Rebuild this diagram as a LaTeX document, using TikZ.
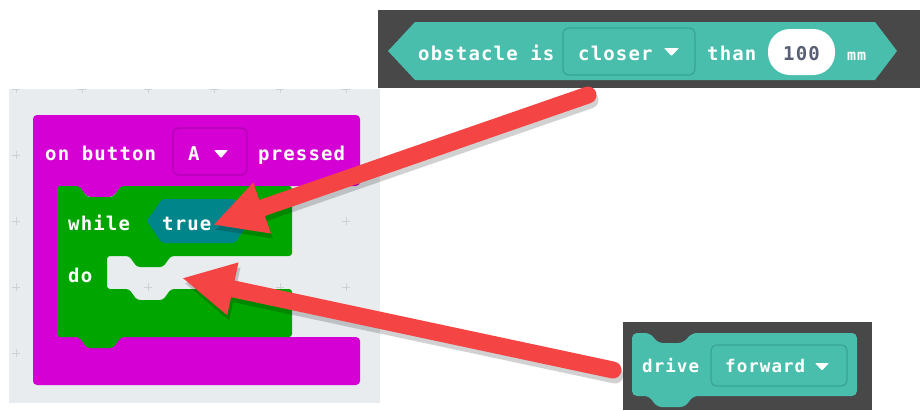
\documentclass[tikz,border=0pt]{standalone}
\usepackage{fontspec}
\newfontfamily\blk[LetterSpace=6]{DejaVu Sans Mono}
\usetikzlibrary{arrows.meta}

\definecolor{canvas}{RGB}{233,236,239}
\definecolor{gridmark}{RGB}{204,209,214}
\definecolor{evmag}{RGB}{212,0,212}
\definecolor{evmagdark}{RGB}{176,0,176}
\definecolor{loopgreen}{RGB}{0,165,0}
\definecolor{logicteal}{RGB}{0,133,138}
\definecolor{robteal}{RGB}{73,190,172}
\definecolor{robtealdark}{RGB}{56,164,148}
\definecolor{panel}{RGB}{72,72,72}
\definecolor{numgray}{RGB}{87,94,117}
\definecolor{arrowred}{RGB}{244,68,68}

\begin{document}
\begin{tikzpicture}[x=1pt,y=-1pt,
  lbl/.style={text=white, font=\blk\bfseries\fontsize{19}{19}\selectfont,
    inner sep=0pt, anchor=base west},
  smalllbl/.style={lbl, font=\blk\bfseries\fontsize{17.5}{17.5}\selectfont},
  numlbl/.style={lbl, text=numgray},
  unitlbl/.style={text=white, font=\blk\bfseries\fontsize{15}{15}\selectfont,
    inner sep=0pt, anchor=base west},
  ddbox/.style={rounded corners=6pt, line width=1.2pt},
  ddtri/.style={fill=white, rounded corners=0.8pt},
  plusmark/.style={draw=gridmark, line width=0.9pt},
  redarrow/.style={draw=arrowred, line width=17pt, line cap=round,
    -{Triangle[length=52pt, width=50pt]}},
  shadowarrow/.style={redarrow, draw=black}
]
\useasboundingbox (0,0) rectangle (920,410);
\fill[white] (0,0) rectangle (920,410);

% ---------- workspace with the event block ----------
\fill[canvas] (9,89) rectangle (380,403);
\begin{scope}
  \clip (9,89) rectangle (380,403);
  \foreach \x in {16,82,...,346}
    \foreach \y in {89,155,...,353}
      \draw[plusmark] (\x-4,\y) -- (\x+4,\y) (\x,\y-4) -- (\x,\y+4);
\end{scope}

% event block (C shape)
\fill[evmag, rounded corners=4pt]
  (33,115) -- (360,115) -- (360,186) -- (121,186) -- (113,197) -- (87,197)
  -- (79,186) -- (57,186) -- (57,337) -- (360,337) -- (360,385) -- (33,385) -- cycle;
\node[lbl] (onbtn) at (45,160) {on button};
\draw[ddbox, draw=evmagdark, fill=evmag] (173,128) rectangle (247,175);
\node[lbl] (btnA) at (188,160) {A};
\fill[ddtri] (214,150) -- (228,150) -- (221,158) -- cycle;
\node[lbl] (pressed) at (258,160) {pressed};

% while loop block
\fill[loopgreen, rounded corners=3pt]
  (57,186) -- (79,186) -- (87,197) -- (113,197) -- (121,186) -- (292,186)
  -- (292,256) -- (171,256) -- (163,267) -- (137,267) -- (129,256) -- (107,256)
  -- (107,289) -- (129,289) -- (137,300) -- (163,300) -- (171,289) -- (292,289)
  -- (292,337) -- (121,337) -- (113,348) -- (87,348) -- (79,337) -- (57,337) -- cycle;
\node[lbl] (while) at (68,230) {while};
\fill[logicteal, rounded corners=2pt]
  (147,221) -- (162,199) -- (235,199) -- (250,221) -- (235,243) -- (162,243) -- cycle;
\node[lbl] (true) at (162,230) {true};
\node[lbl] (do) at (68,282) {do};

% ---------- sensor block ----------
\fill[panel] (378,10) rectangle (920,88);
\fill[robteal]
  (388,51) -- (415,22) -- (875,22) -- (897,51) -- (875,80) -- (415,80) -- cycle;
\node[lbl] (obst) at (418,60) {obstacle is};
\draw[ddbox, draw=robtealdark, fill=robteal] (563,28) rectangle (695,75);
\node[lbl] (closer) at (578,60) {closer};
\fill[ddtri] (664,48) -- (679,48) -- (671.5,56) -- cycle;
\node[lbl] (than) at (707,60) {than};
\fill[white, rounded corners=22pt] (768,29) rectangle (835,75);
\node[numlbl] (dist) at (783,60) {100};
\node[unitlbl] (unit) at (847,60) {mm};

% ---------- drive block ----------
\fill[panel] (623,322) rectangle (872,410);
\fill[robteal, rounded corners=5pt]
  (632,333) -- (650,333) -- (658,343) -- (683,343) -- (692,333) -- (857,333)
  -- (857,396) -- (693,396) -- (685,407) -- (657,407) -- (649,396) -- (632,396) -- cycle;
\node[smalllbl] (drive) at (642,372) {drive};
\draw[ddbox, draw=robtealdark, fill=robteal] (711,345) rectangle (847,386);
\node[smalllbl] (fwd) at (725,372) {forward};
\fill[ddtri] (815,363) -- (829,363) -- (822,370.5) -- cycle;

% ---------- pointer arrows ----------
\coordinate (a1tail) at (588,95);
\coordinate (a1tip) at (213,225);
\coordinate (a2tail) at (613,370);
\coordinate (a2tip) at (182,278);

\begin{scope}[transparency group, opacity=0.18]
  \draw[shadowarrow] ([shift={(2,5)}]a1tail) -- ([shift={(2,5)}]a1tip);
  \draw[shadowarrow] ([shift={(2,5)}]a2tail) -- ([shift={(2,5)}]a2tip);
\end{scope}
\draw[redarrow] (a1tail) -- (a1tip);
\draw[redarrow] (a2tail) -- (a2tip);
\end{tikzpicture}
\end{document}
